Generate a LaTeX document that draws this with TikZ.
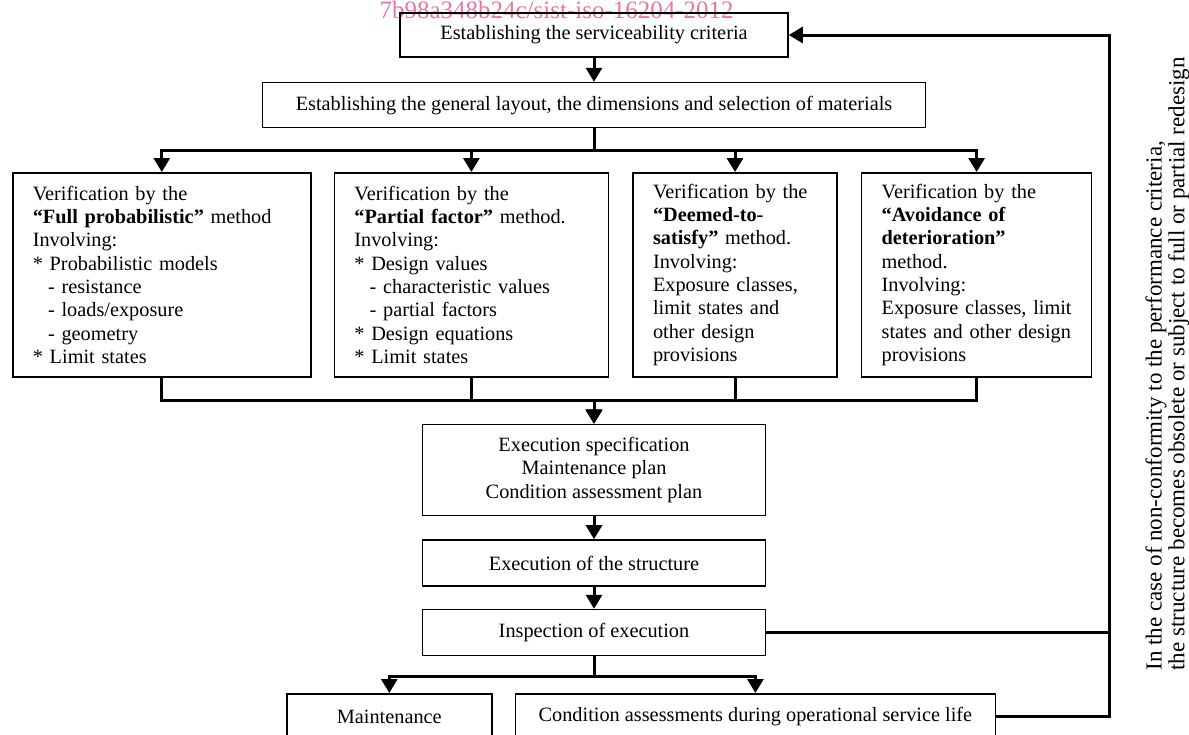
\documentclass[tikz,border=0pt]{standalone}
\usepackage{fontspec}
\setmainfont{Liberation Serif}
\usetikzlibrary{arrows.meta,positioning}
\definecolor{wmpink}{RGB}{232,118,160}
\tikzstyle{bx} = [rectangle, draw, line width=0.8pt, inner sep=0pt, align=center,
    font=\fontsize{10.15pt}{11.65pt}\selectfont, minimum height=23pt]
\tikzstyle{mt} = [bx, align=left, inner xsep=10pt, minimum height=102pt]

\begin{document}
\begin{tikzpicture}[>={Triangle[length=7pt,width=8pt]},line width=1.5pt]
  \useasboundingbox (0,0) rectangle (594.5pt,-367pt);
  \node[anchor=base west,inner sep=0pt,text=wmpink,font=\fontsize{12.5pt}{14pt}\selectfont] (wm) at (189pt,-9pt) {7b98a348b24c/sist-iso-16204-2012};
  \node[bx,minimum width=194pt,minimum height=22pt] (crit) at (297pt,-17.5pt) {Establishing the serviceability criteria};
  \node[bx,minimum width=331.5pt,minimum height=22.5pt] (lay) [below=12pt of crit] {Establishing the general layout, the dimensions and selection of materials};
  \node[mt,text width=129pt,anchor=north west] (v1) at (6pt,-86pt) {Verification by the\\
    \textbf{“Full probabilistic”} method\\
    Involving:\\
    {*} Probabilistic models\\
    \hspace*{.75em}- resistance\\
    \hspace*{.75em}- loads/exposure\\
    \hspace*{.75em}- geometry\\
    {*} Limit states};
  \node[mt,text width=117pt] (v2) [right=11pt of v1] {Verification by the\\
    \textbf{“Partial factor”} method.\\
    Involving:\\
    {*} Design values\\
    \hspace*{.75em}- characteristic values\\
    \hspace*{.75em}- partial factors\\
    {*} Design equations\\
    {*} Limit states};
  \node[mt,text width=82pt] (v3) [right=11.5pt of v2] {Verification by the\\
    \textbf{“Deemed-to-}\\
    \textbf{satisfy”} method.\\
    Involving:\\
    Exposure classes,\\
    limit states and\\
    other design\\
    provisions};
  \node[mt,text width=95pt] (v4) [right=11.5pt of v3] {Verification by the\\
    \textbf{“Avoidance of}\\
    \textbf{deterioration”}\\
    method.\\
    Involving:\\
    Exposure classes, limit\\
    states and other design\\
    provisions};
  \coordinate (mid) at (v1.south -| lay.south);
  \node[bx,minimum width=171.5pt,minimum height=45.5pt] (spec) [below=23pt of mid] {Execution specification\\Maintenance plan\\Condition assessment plan};
  \node[bx,minimum width=171.5pt] (exe) [below=11.5pt of spec] {Execution of the structure};
  \node[bx,minimum width=171.5pt] (insp) [below=11pt of exe] {Inspection of execution};
  \node[bx,minimum width=102.5pt,anchor=north west] (maint) at (143pt,-346.5pt) {Maintenance};
  \node[bx,minimum width=240pt] (cond) [right=11pt of maint] {Condition assessments during operational service life};
  \coordinate (back) at (554.5pt,-17.5pt);
  \node[rotate=90,anchor=north west,align=left,inner sep=0pt,font=\fontsize{11.5pt}{11.3pt}\selectfont] (note) at (572pt,-336pt) {In the case of non-conformity to the performance criteria,\\the structure becomes obsolete or subject to full or partial redesign};

  \draw[->] (crit) -- (lay);
  \foreach \n in {v1,v2,v3,v4} \draw[->] (lay.south) -- ++(0,-11pt) -| (\n.north);
  \foreach \n in {v1,v2,v3,v4} \draw[->] (\n.south) -- ++(0,-11.5pt) -| (spec.north);
  \draw[->] (spec) -- (exe);
  \draw[->] (exe) -- (insp);
  \foreach \n in {maint,cond} \draw[->] (insp.south) -- ++(0,-10pt) -| (\n.north);
  \draw (insp.east) -- (insp.east -| back);
  \draw[->] (cond.east) -| (back) -- (crit.east);
\end{tikzpicture}
\end{document}
